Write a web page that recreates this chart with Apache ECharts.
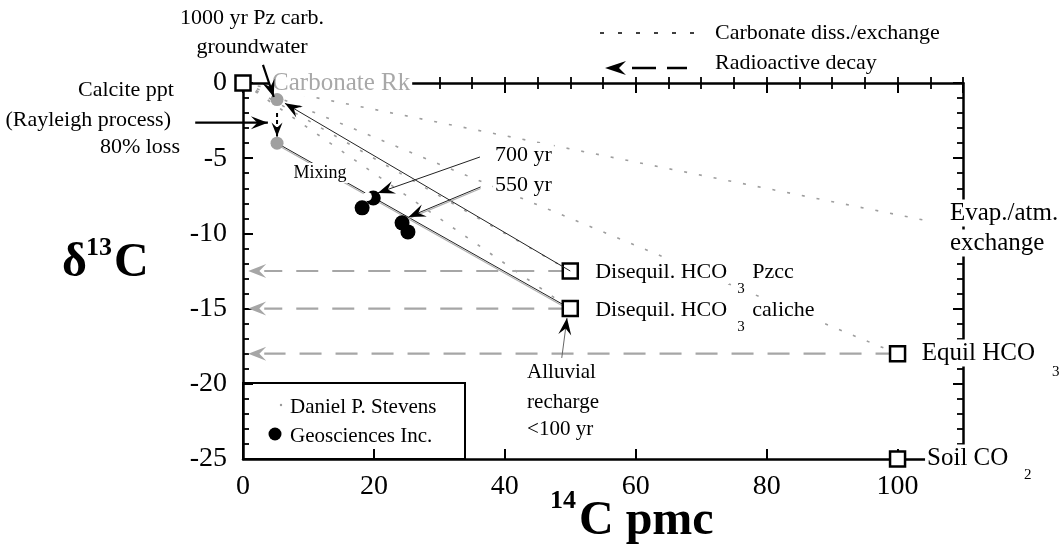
<!DOCTYPE html>
<html><head><meta charset="utf-8">
<script src="https://cdn.jsdelivr.net/npm/echarts@6/dist/echarts.min.js"></script>
<style>html,body{margin:0;padding:0;background:#fff}#c{width:1063px;height:552px}</style>
</head><body><div id="c"></div>
<script>
const FONT = "'Liberation Serif','Times New Roman',Times,serif";

// ---- data ----
const xLabelTicks = [0, 20, 40, 60, 80, 100];
const yLabelTicks = [0, -5, -10, -15, -20, -25];

// end members (open squares)
const endNames = ['Carbonate Rk', 'Disequil. HCO3 Pzcc', 'Disequil. HCO3 caliche', 'Equil HCO3', 'Soil CO2'];
const endX = [0, 50, 50, 100, 100];
const endY = [0, -12.5, -15, -18, -25];

// calcite-precipitation points (grey)
const calciteX = [5.2, 5.2];
const calciteY = [-1.1, -4.0];

// Geosciences Inc. samples
const geoX = [19.9, 18.2, 24.3, 25.2];
const geoY = [-7.65, -8.3, -9.3, -9.9];
// white overprint producing the crescent on the first sample
const maskX = [19.0];
const maskY = [-7.55];

// carbonate dissolution / exchange paths (x1,y1,x2,y2)
const exchangePaths = [[0, 0, 105, -9.2], [0, 0, 100, -18], [0, 0, 50, -12.5], [0, 0, 50, -15]];
// radioactive decay paths (from -> arrow tip)
const decayPaths = [[50, -12.5, 0.8, -12.5], [50, -15, 0.8, -15], [100, -18, 0.8, -18]];
// mixing line
const mixingPath = [[5.2, -4.0, 50, -15]];
// pointer arrows (from -> tip)
const pointerArrows = [[3.05, 1.2, 4.7, -0.93], [-7.3, -2.64, 3.8, -2.64], [50, -12.5, 6.4, -1.35], [36.2, -4.92, 20.6, -7.31], [48.7, -18.28, 49.5, -15.62]];
const doubleArrows = [[36.3, -6.91, 25.3, -8.91]];
const dashedArrows = [[5.2, -2.0, 5.2, -3.55]];

// annotation texts
const labelText = ['1000 yr Pz carb.', 'groundwater', 'Calcite ppt', '(Rayleigh process)', '80% loss',
  'Carbonate Rk', 'Mixing', '700 yr', '550 yr',
  'Disequil. HCO', '3', 'Pzcc', 'Disequil. HCO', '3', 'caliche',
  'Alluvial', 'recharge', '<100 yr',
  'Evap./atm.', 'exchange', 'Equil HCO', '3', 'Soil CO', '2'];
const labelX = [1.38, 1.38, -10.24, -10.7, -9.32,
  4.13, 11.76, 38.2, 38.2,
  53.5, 75.2, 77.5, 53.5, 75.2, 77.5,
  43.1, 43.1, 43.1,
  107.7, 107.7, 103.4, 123.3, 104.2, 119.0];
const labelY = [4.32, 2.39, -0.47, -2.46, -4.26,
  0, -5.98, -4.79, -6.78,
  -12.57, -13.7, -12.57, -15.09, -16.22, -15.09,
  -19.28, -21.21, -23.07,
  -8.64, -10.64, -17.95, -19.2, -24.93, -26.06];
const labelKind = ['c', 'c', 'r', 'r', 'r',
  'gray', 'mix', 'n', 'n',
  'n', 'sub', 'n', 'n', 'sub', 'n',
  'a', 'a', 'a',
  'big', 'big', 'big', 'sub', 'big', 'sub'];

// ---- styles ----
const kinds = {
  c: { size: 22, align: 'center' },
  r: { size: 22, align: 'right' },
  gray: { size: 25, align: 'left', color: '#a8a8a8' },
  mix: { size: 18, align: 'center' },
  n: { size: 22, align: 'left' },
  sub: { size: 15, align: 'left' },
  a: { size: 21, align: 'left' },
  big: { size: 25, align: 'left' }
};
const pointerWidths = [2.2, 2.2, 1, 1, 1];
const pointerColors = ['#000', '#000', '#222', '#222', '#666'];

function arrowHead(tip, from, len, wid, color) {
  const dx = tip[0] - from[0], dy = tip[1] - from[1];
  const L = Math.hypot(dx, dy) || 1;
  const ux = dx / L, uy = dy / L, nx = -uy, ny = ux;
  const bx = tip[0] - ux * len, by = tip[1] - uy * len;
  const mx = tip[0] - ux * len * 0.62, my = tip[1] - uy * len * 0.62;
  return { type: 'polygon', shape: { points: [[tip[0], tip[1]], [bx + nx * wid / 2, by + ny * wid / 2], [mx, my], [bx - nx * wid / 2, by - ny * wid / 2]] }, style: { fill: color } };
}
function seg(p1, p2, style) {
  return { type: 'line', shape: { x1: p1[0], y1: p1[1], x2: p2[0], y2: p2[1] }, style: style };
}
function pts(i, api) {
  return [api.coord([api.value(0), api.value(1)]), api.coord([api.value(2), api.value(3)])];
}

const chart = echarts.init(document.getElementById('c'), null, { renderer: 'canvas' });

const axisLineStyle = { color: '#000', width: 2.5 };
const baseX = {
  type: 'value', min: 0, max: 110, interval: 20, gridIndex: 0,
  axisLine: { show: true, onZero: false, lineStyle: axisLineStyle },
  axisTick: { show: true, inside: true, length: 10, lineStyle: { color: '#000', width: 2 } },
  splitLine: { show: false }
};
const minorX = {
  type: 'value', min: 0, max: 110, interval: 5, gridIndex: 0,
  axisLine: { show: false },
  axisTick: { show: true, inside: true, length: 6, lineStyle: { color: '#000', width: 1.8 } },
  axisLabel: { show: false }, splitLine: { show: false }
};
const baseY = {
  type: 'value', min: -25, max: 0, interval: 5, gridIndex: 0,
  axisLine: { show: true, onZero: false, lineStyle: axisLineStyle },
  axisTick: { show: true, inside: true, length: 10, lineStyle: { color: '#000', width: 2 } },
  minorTick: { show: true, splitNumber: 5, length: 6, lineStyle: { color: '#000', width: 1.8 } },
  splitLine: { show: false }
};

const option = {
  animation: false,
  backgroundColor: '#fff',
  grid: { left: 243, right: 100, top: 83, bottom: 93, containLabel: false },
  xAxis: [
    Object.assign({}, baseX, { position: 'bottom', axisLabel: { show: true, margin: 14, color: '#000', fontSize: 28, fontFamily: FONT,
      formatter: v => (xLabelTicks.indexOf(v) >= 0 ? String(v) : '') } }),
    Object.assign({}, baseX, { position: 'top', axisLabel: { show: false } }),
    Object.assign({}, minorX, { position: 'bottom' }),
    Object.assign({}, minorX, { position: 'top' })
  ],
  yAxis: [
    Object.assign({}, baseY, { position: 'left', axisLabel: { show: true, margin: 16, color: '#000', fontSize: 28, fontFamily: FONT,
      formatter: v => (yLabelTicks.indexOf(v) >= 0 ? String(v) : '') } }),
    Object.assign({}, baseY, { position: 'right', axisLabel: { show: false } })
  ],
  series: [
    { // exchange paths (dotted grey)
      type: 'custom', name: 'Carbonate diss./exchange', clip: false, z: 2,
      data: exchangePaths,
      renderItem: (params, api) => {
        const p = pts(params.dataIndex, api);
        return seg(p[0], p[1], { stroke: '#9e9e9e', lineWidth: 1.6, lineDash: [3, 12] });
      }
    },
    { // decay arrows (dashed grey)
      type: 'custom', name: 'Radioactive decay', clip: false, z: 2,
      data: decayPaths,
      renderItem: (params, api) => {
        const p = pts(params.dataIndex, api);
        const start = [p[1][0] + 16, p[1][1]];
        return { type: 'group', children: [
          seg(p[0], start, { stroke: '#a6a6a6', lineWidth: 2.2, lineDash: [22, 14] }),
          arrowHead(p[1], p[0], 18, 14, '#a6a6a6')
        ] };
      }
    },
    { // mixing line (double)
      type: 'custom', name: 'Mixing', clip: false, z: 3,
      data: mixingPath,
      renderItem: (params, api) => {
        const p = pts(params.dataIndex, api);
        return { type: 'group', children: [
          seg([p[0][0], p[0][1] + 1.6], [p[1][0], p[1][1] + 1.6], { stroke: '#b0b0b0', lineWidth: 1.2 }),
          seg(p[0], p[1], { stroke: '#222', lineWidth: 1 })
        ] };
      }
    },
    { // annotation texts
      type: 'custom', name: 'labels', clip: false, z: 10,
      data: labelX.map((x, i) => [x, labelY[i]]),
      renderItem: (params, api) => {
        const i = params.dataIndex;
        const p = api.coord([api.value(0), api.value(1)]);
        const k = kinds[labelKind[i]];
        return { type: 'text', x: p[0], y: p[1], style: {
          text: labelText[i], fill: k.color || '#000', fontSize: k.size, fontFamily: FONT,
          align: k.align, verticalAlign: 'middle', backgroundColor: '#fff', padding: [1, 2]
        } };
      }
    },
    {
      type: 'scatter', name: 'End members', clip: false, z: 11,
      symbol: 'rect', symbolSize: 15,
      itemStyle: { color: '#fff', borderColor: '#000', borderWidth: 2.5, opacity: 1 },
      data: endX.map((x, i) => ({ name: endNames[i], value: [x, endY[i]] }))
    },
    {
      type: 'scatter', name: 'Calcite', clip: false, z: 11,
      symbol: 'circle', symbolSize: 13,
      itemStyle: { color: '#a0a0a0', opacity: 1 },
      data: calciteX.map((x, i) => [x, calciteY[i]])
    },
    {
      type: 'scatter', name: 'Geosciences Inc.', clip: false, z: 11,
      symbol: 'circle', symbolSize: 15,
      itemStyle: { color: '#000', opacity: 1 },
      data: geoX.slice(0, 1).map((x, i) => [x, geoY[i]])
    },
    {
      type: 'scatter', name: 'mask', clip: false, z: 12,
      symbol: 'circle', symbolSize: 9,
      itemStyle: { color: '#fff', opacity: 1 },
      data: maskX.map((x, i) => [x, maskY[i]])
    },
    {
      type: 'scatter', name: 'Geosciences Inc. 2', clip: false, z: 13,
      symbol: 'circle', symbolSize: 15,
      itemStyle: { color: '#000', opacity: 1 },
      data: geoX.slice(1).map((x, i) => [x, geoY[i + 1]])
    },
    { // pointer arrows
      type: 'custom', name: 'pointers', clip: false, z: 14,
      data: pointerArrows,
      renderItem: (params, api) => {
        const i = params.dataIndex;
        const p = pts(i, api);
        return { type: 'group', children: [
          seg(p[0], p[1], { stroke: pointerColors[i], lineWidth: pointerWidths[i] }),
          arrowHead(p[1], p[0], 17, 13, '#000')
        ] };
      }
    },
    { // double-line pointer
      type: 'custom', name: 'pointers2', clip: false, z: 14,
      data: doubleArrows,
      renderItem: (params, api) => {
        const p = pts(params.dataIndex, api);
        return { type: 'group', children: [
          seg([p[0][0], p[0][1] + 1.6], [p[1][0], p[1][1] + 1.6], { stroke: '#b0b0b0', lineWidth: 1.2 }),
          seg(p[0], p[1], { stroke: '#222', lineWidth: 1 }),
          arrowHead(p[1], p[0], 17, 13, '#000')
        ] };
      }
    },
    { // dashed short arrow
      type: 'custom', name: 'pointers3', clip: false, z: 14,
      data: dashedArrows,
      renderItem: (params, api) => {
        const p = pts(params.dataIndex, api);
        return { type: 'group', children: [
          seg(p[0], p[1], { stroke: '#000', lineWidth: 2, lineDash: [4, 3] }),
          arrowHead(p[1], p[0], 14, 11, '#000')
        ] };
      }
    }
  ],
  graphic: [
    // top legend
    { type: 'line', shape: { x1: 600, y1: 33, x2: 697, y2: 33 }, style: { stroke: '#000', lineWidth: 1.6, lineDash: [4, 14] } },
    { type: 'text', x: 715, y: 33, style: { text: 'Carbonate diss./exchange', fill: '#000', fontSize: 22, fontFamily: FONT, verticalAlign: 'middle' } },
    { type: 'polygon', shape: { points: [[605, 68], [626, 61], [619, 68], [626, 75]] }, style: { fill: '#000' } },
    { type: 'line', shape: { x1: 632, y1: 68, x2: 656, y2: 68 }, style: { stroke: '#000', lineWidth: 2.5 } },
    { type: 'line', shape: { x1: 667, y1: 68, x2: 687, y2: 68 }, style: { stroke: '#000', lineWidth: 2.5 } },
    { type: 'text', x: 715, y: 63, style: { text: 'Radioactive decay', fill: '#000', fontSize: 22, fontFamily: FONT, verticalAlign: 'middle' } },
    // bottom-left legend box
    { type: 'rect', shape: { x: 243, y: 383, width: 222, height: 76 }, style: { fill: null, stroke: '#000', lineWidth: 2 }, z: 5 },
    { type: 'circle', shape: { cx: 281, cy: 405, r: 1.2 }, style: { fill: '#999' } },
    { type: 'text', x: 290, y: 407, style: { text: 'Daniel P. Stevens', fill: '#000', fontSize: 21, fontFamily: FONT, verticalAlign: 'middle' } },
    { type: 'circle', shape: { cx: 275, cy: 434, r: 6.5 }, style: { fill: '#000' } },
    { type: 'text', x: 290, y: 436, style: { text: 'Geosciences Inc.', fill: '#000', fontSize: 21, fontFamily: FONT, verticalAlign: 'middle' } },
    // y axis title  δ13C
    { type: 'text', x: 62, y: 264, style: { text: 'δ', fill: '#000', fontSize: 48, fontWeight: 'bold', fontFamily: FONT, verticalAlign: 'middle' } },
    { type: 'text', x: 86, y: 248, style: { text: '13', fill: '#000', fontSize: 26, fontWeight: 'bold', fontFamily: FONT, verticalAlign: 'middle' } },
    { type: 'text', x: 114, y: 264, style: { text: 'C', fill: '#000', fontSize: 48, fontWeight: 'bold', fontFamily: FONT, verticalAlign: 'middle' } },
    // x axis title  14C pmc
    { type: 'text', x: 550, y: 501, style: { text: '14', fill: '#000', fontSize: 26, fontWeight: 'bold', fontFamily: FONT, verticalAlign: 'middle' } },
    { type: 'text', x: 579, y: 522, style: { text: 'C pmc', fill: '#000', fontSize: 48, fontWeight: 'bold', fontFamily: FONT, verticalAlign: 'middle' } }
  ]
};
chart.setOption(option);
</script>
</body></html>
